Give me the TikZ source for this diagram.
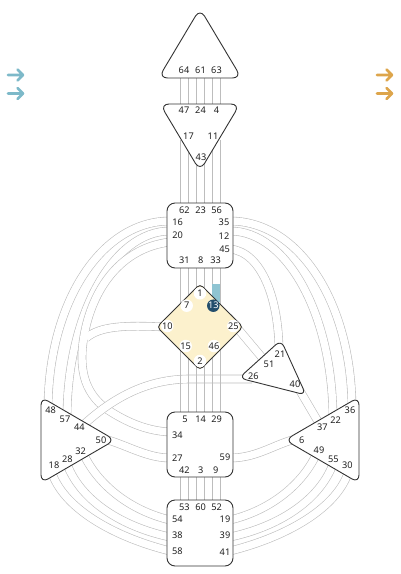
\documentclass[tikz,border=0pt]{standalone}
\usepackage{fontspec}
\setmainfont{Noto Sans}
\usetikzlibrary{arrows.meta}
\definecolor{chan}{HTML}{BDBDBD}
\definecolor{edgec}{HTML}{333333}
\definecolor{gfill}{HTML}{FCF1CD}
\definecolor{navy}{HTML}{234E6C}
\definecolor{tealc}{HTML}{8FC4D2}
\definecolor{arrL}{HTML}{7DB9C9}
\definecolor{arrR}{HTML}{DDA54B}
\begin{document}
\begin{tikzpicture}[x=1pt,y=-1pt,
  channel/.style={draw=chan, line width=0.6pt, double=white, double distance=7.4pt},
  chanout/.style={draw=chan, line width=8.6pt},
  chanin/.style={draw=white, line width=7.4pt},
  thinline/.style={draw=chan, line width=0.6pt},
  centre/.style={draw=edgec, line width=0.9pt, fill=white, rounded corners=8pt},
  gate/.style={font=\fontsize{9.2}{10}\selectfont, inner sep=0pt, text=black!87},
  ggate/.style={gate, circle, fill=white, minimum size=12.5pt},
  arrowmark/.style={line width=2.8pt, line cap=round, line join=round}]
\useasboundingbox (0,0) rectangle (400,574);

% ---------- channel end coordinates ----------
\coordinate (c16) at (170,221);  \coordinate (c48) at (48,410);
\coordinate (c20) at (170,231);  \coordinate (c57) at (67,418);
\coordinate (c20b) at (170,242); \coordinate (c34) at (170,432);
\coordinate (c10) at (165,327);  \coordinate (cjoin) at (86,338);
\coordinate (c35) at (230,221);  \coordinate (c36) at (352,410);
\coordinate (c12) at (230,231);  \coordinate (c22) at (333,420);
\coordinate (c45) at (230,249);  \coordinate (c21) at (279,352);
\coordinate (c25) at (228,317);  \coordinate (c51) at (270,367);
\coordinate (c26) at (252,379);  \coordinate (c44) at (80,428);
\coordinate (c40) at (296,384);  \coordinate (c37) at (323,430);
\coordinate (c59) at (230,458);  \coordinate (c6) at (292,440);
\coordinate (c50) at (108,440);  \coordinate (c27) at (170,458);
\coordinate (c32) at (81,448);   \coordinate (c54) at (170,520);
\coordinate (c28) at (65,458);   \coordinate (c38) at (170,537);
\coordinate (c18) at (50,466);   \coordinate (c58) at (170,551);
\coordinate (c49) at (319,448);  \coordinate (c19) at (230,520);
\coordinate (c55) at (335,458);  \coordinate (c39) at (230,537);
\coordinate (c30) at (350,466);  \coordinate (c41) at (230,551);

% ---------- curved channels ----------
\draw[channel] (c16) .. controls (101,221) and (48,303) .. (c48);
\draw[channel] (c20) .. controls (113,231) and (67,315) .. (c57);
\draw[channel] (c35) .. controls (299,221) and (352,303) .. (c36);
\draw[channel] (c12) .. controls (287,231) and (333,315) .. (c22);
\draw[channel] (c45) .. controls (262,252) and (279,300) .. (c21);
% integration loop (20 - 10 - 34)
\path[chanout] (c20b) .. controls (120,248) and (92,290) .. (84,336)
   .. controls (79,365) and (82,392) .. (108,410)
   .. controls (128,423) and (148,431) .. (c34);
\path[chanout] (c10) .. controls (125,325) and (100,326) .. (cjoin);
\path[chanin] (c20b) .. controls (120,248) and (92,290) .. (84,336)
   .. controls (79,365) and (82,392) .. (108,410)
   .. controls (128,423) and (148,431) .. (c34);
\path[chanin] (c10) .. controls (125,325) and (100,326) .. (cjoin);

\draw[channel] (c25) -- (c51);
\draw[channel] (c40) -- (c37);
\draw[channel] (c59) .. controls (255,458) and (272,446) .. (c6);
\draw[channel] (c50) .. controls (128,446) and (148,458) .. (c27);
\draw[channel] (c32) .. controls (94,482) and (128,510) .. (c54);
\draw[channel] (c28) .. controls (76,497) and (118,526) .. (c38);
\draw[channel] (c18) .. controls (58,505) and (110,536) .. (c58);
\draw[channel] (c49) .. controls (306,482) and (272,510) .. (c19);
\draw[channel] (c55) .. controls (324,497) and (282,526) .. (c39);
\draw[channel] (c30) .. controls (342,505) and (290,536) .. (c41);
\draw[channel] (c26) -- (190,379) .. controls (150,379) and (115,395) .. (c44);

% ---------- vertical channels ----------
\foreach \cx in {184,200,216}{
  \foreach \dx in {-4,4}{
    \draw[thinline] (\cx+\dx,70) -- (\cx+\dx,110);
    \draw[thinline] (\cx+\dx,140) -- (\cx+\dx,208);
    \draw[thinline] (\cx+\dx,264) -- (\cx+\dx,416);
    \draw[thinline] (\cx+\dx,472) -- (\cx+\dx,505);
  }
}
\fill[tealc] (212.3,284) rectangle (219.7,302);

% ---------- centres ----------
\draw[centre, rounded corners=9pt] (200,78) -- (158.5,78) -- (200,8.5) -- (241.5,78) -- cycle;
\draw[centre, rounded corners=9pt] (200,104) -- (240,104) -- (200,171) -- (160,104) -- cycle;
\draw[centre] (167,203) rectangle (233,268);
\draw[centre, fill=gfill, rounded corners=4pt] (178.5,305.5) -- (200,284) -- (243,327) -- (200,370) -- (157,327) -- cycle;
\draw[centre, rounded corners=7pt] (260,359) -- (281,340) -- (306,395) -- (239,378) -- cycle;
\draw[centre] (41,440) -- (41,397) -- (115,440) -- (41,483) -- cycle;
\draw[centre] (359,440) -- (359,397) -- (285,440) -- (359,483) -- cycle;
\draw[centre] (167,412) rectangle (233,477);
\draw[centre] (167,500) rectangle (233,566);

% ---------- gate numbers ----------
\node[gate] (g64) at (184,70.5) {64};
\node[gate] (g61) at (200.5,70.5) {61};
\node[gate] (g63) at (216.5,70.5) {63};
\node[gate] (g47) at (184,110) {47};
\node[gate] (g24) at (200.5,110) {24};
\node[gate] (g4) at (216.5,110) {4};
\node[gate] (g17) at (188.5,136) {17};
\node[gate] (g11) at (213,136) {11};
\node[gate] (g43) at (201,157) {43};

\node[gate] (g62) at (184.3,210) {62};
\node[gate] (g23) at (200.7,210) {23};
\node[gate] (g56) at (216.7,210) {56};
\node[gate] (g16) at (177.7,222.3) {16};
\node[gate] (g20) at (177.7,235.7) {20};
\node[gate] (g35) at (224,222.3) {35};
\node[gate] (g12) at (224,235.7) {12};
\node[gate] (g45) at (224.7,249.3) {45};
\node[gate] (g31) at (184.3,260.7) {31};
\node[gate] (g8) at (200.7,260.7) {8};
\node[gate] (g33) at (215.7,260.7) {33};

\node[ggate] (g1) at (200,293.3) {1};
\node[ggate] (g7) at (186.7,305.7) {7};
\node[ggate, fill=navy, text=white] (g13) at (213.3,305.7) {13};
\node[ggate] (g10) at (167.3,326) {10};
\node[ggate] (g25) at (233.3,326) {25};
\node[ggate] (g15) at (185.7,346) {15};
\node[ggate] (g46) at (214,346) {46};
\node[ggate] (g2) at (200,361) {2};

\node[gate] (g21) at (280,354) {21};
\node[gate] (g51) at (269,364) {51};
\node[gate] (g26) at (253.3,376.7) {26};
\node[gate] (g40) at (295,384) {40};

\node[gate] (g48) at (50.7,410.7) {48};
\node[gate] (g57) at (65,419) {57};
\node[gate] (g44) at (79.3,427.3) {44};
\node[gate] (g50) at (101,440) {50};
\node[gate] (g32) at (80.7,451.7) {32};
\node[gate] (g28) at (67.3,459) {28};
\node[gate] (g18) at (54,465.7) {18};

\node[gate] (g36) at (350,410.7) {36};
\node[gate] (g22) at (335.7,420) {22};
\node[gate] (g37) at (322.3,427.3) {37};
\node[gate] (g6) at (301.7,440) {6};
\node[gate] (g49) at (319,450.7) {49};
\node[gate] (g55) at (333.3,459) {55};
\node[gate] (g30) at (347.3,465.7) {30};

\node[gate] (g5) at (185,419) {5};
\node[gate] (g14) at (200.7,419) {14};
\node[gate] (g29) at (216.7,419) {29};
\node[gate] (g34) at (177.3,435) {34};
\node[gate] (g27) at (177.3,457.7) {27};
\node[gate] (g59) at (225,457.7) {59};
\node[gate] (g42) at (184.3,470) {42};
\node[gate] (g3) at (200.7,470) {3};
\node[gate] (g9) at (215.7,470) {9};

\node[gate] (g53) at (184.3,507.7) {53};
\node[gate] (g60) at (200.7,507.7) {60};
\node[gate] (g52) at (216.7,507.7) {52};
\node[gate] (g54) at (177.3,519.3) {54};
\node[gate] (g38) at (177.3,535.7) {38};
\node[gate] (g58) at (177.3,551.7) {58};
\node[gate] (g19) at (225,519.3) {19};
\node[gate] (g39) at (225,535.7) {39};
\node[gate] (g41) at (225,551.7) {41};

% ---------- arrows ----------
\draw[arrowmark, arrL] (8,75) -- (23,75) (17.5,69.5) -- (23,75) -- (17.5,80.5);
\draw[arrowmark, arrL] (8,93.5) -- (23,93.5) (17.5,88) -- (23,93.5) -- (17.5,99);
\draw[arrowmark, arrR] (377,75) -- (392,75) (386.5,69.5) -- (392,75) -- (386.5,80.5);
\draw[arrowmark, arrR] (377,93.5) -- (392,93.5) (386.5,88) -- (392,93.5) -- (386.5,99);
\end{tikzpicture}
\end{document}
